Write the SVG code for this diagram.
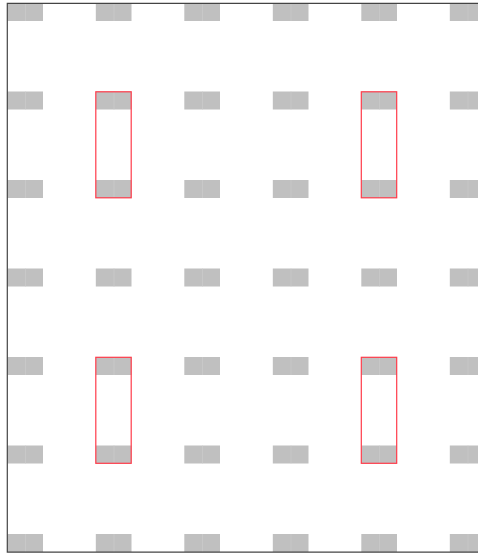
<svg xmlns="http://www.w3.org/2000/svg" xmlns:xlink="http://www.w3.org/1999/xlink" width="478" height="554" viewBox="0 0 478 554">
<style>
.cell{fill:#c0c0c0}
.seam{stroke:#cccccc;stroke-width:0.6}
.sel{fill:none;stroke:#ff3b4a;stroke-width:1.2}
.frame{fill:none;stroke:#444444;stroke-width:1.2}
</style>
<defs>
<g id="c"><rect class="cell" x="0" y="0" width="35.7" height="18"/><line class="seam" x1="18.2" y1="0" x2="18.2" y2="18"/></g>
</defs>
<rect width="478" height="554" fill="#ffffff"/>
<g id="grid">
<use xlink:href="#c" x="7.3" y="3"/><use xlink:href="#c" x="95.8" y="3"/><use xlink:href="#c" x="184.3" y="3"/><use xlink:href="#c" x="272.8" y="3"/><use xlink:href="#c" x="361.3" y="3"/><use xlink:href="#c" x="449.8" y="3"/>
<use xlink:href="#c" x="7.3" y="91.5"/><use xlink:href="#c" x="95.8" y="91.5"/><use xlink:href="#c" x="184.3" y="91.5"/><use xlink:href="#c" x="272.8" y="91.5"/><use xlink:href="#c" x="361.3" y="91.5"/><use xlink:href="#c" x="449.8" y="91.5"/>
<use xlink:href="#c" x="7.3" y="180"/><use xlink:href="#c" x="95.8" y="180"/><use xlink:href="#c" x="184.3" y="180"/><use xlink:href="#c" x="272.8" y="180"/><use xlink:href="#c" x="361.3" y="180"/><use xlink:href="#c" x="449.8" y="180"/>
<use xlink:href="#c" x="7.3" y="268.5"/><use xlink:href="#c" x="95.8" y="268.5"/><use xlink:href="#c" x="184.3" y="268.5"/><use xlink:href="#c" x="272.8" y="268.5"/><use xlink:href="#c" x="361.3" y="268.5"/><use xlink:href="#c" x="449.8" y="268.5"/>
<use xlink:href="#c" x="7.3" y="357"/><use xlink:href="#c" x="95.8" y="357"/><use xlink:href="#c" x="184.3" y="357"/><use xlink:href="#c" x="272.8" y="357"/><use xlink:href="#c" x="361.3" y="357"/><use xlink:href="#c" x="449.8" y="357"/>
<use xlink:href="#c" x="7.3" y="445.5"/><use xlink:href="#c" x="95.8" y="445.5"/><use xlink:href="#c" x="184.3" y="445.5"/><use xlink:href="#c" x="272.8" y="445.5"/><use xlink:href="#c" x="361.3" y="445.5"/><use xlink:href="#c" x="449.8" y="445.5"/>
<use xlink:href="#c" x="7.3" y="534"/><use xlink:href="#c" x="95.8" y="534"/><use xlink:href="#c" x="184.3" y="534"/><use xlink:href="#c" x="272.8" y="534"/><use xlink:href="#c" x="361.3" y="534"/><use xlink:href="#c" x="449.8" y="534"/>
</g>
<g id="selections">
<rect class="sel" x="95.8" y="91.8" width="35.4" height="106"/>
<rect class="sel" x="361.3" y="91.8" width="35.4" height="106"/>
<rect class="sel" x="95.8" y="357.3" width="35.4" height="106"/>
<rect class="sel" x="361.3" y="357.3" width="35.4" height="106"/>
</g>
<path class="frame" d="M478,3.4 H7.3 V552.2 H478"/>
</svg>
